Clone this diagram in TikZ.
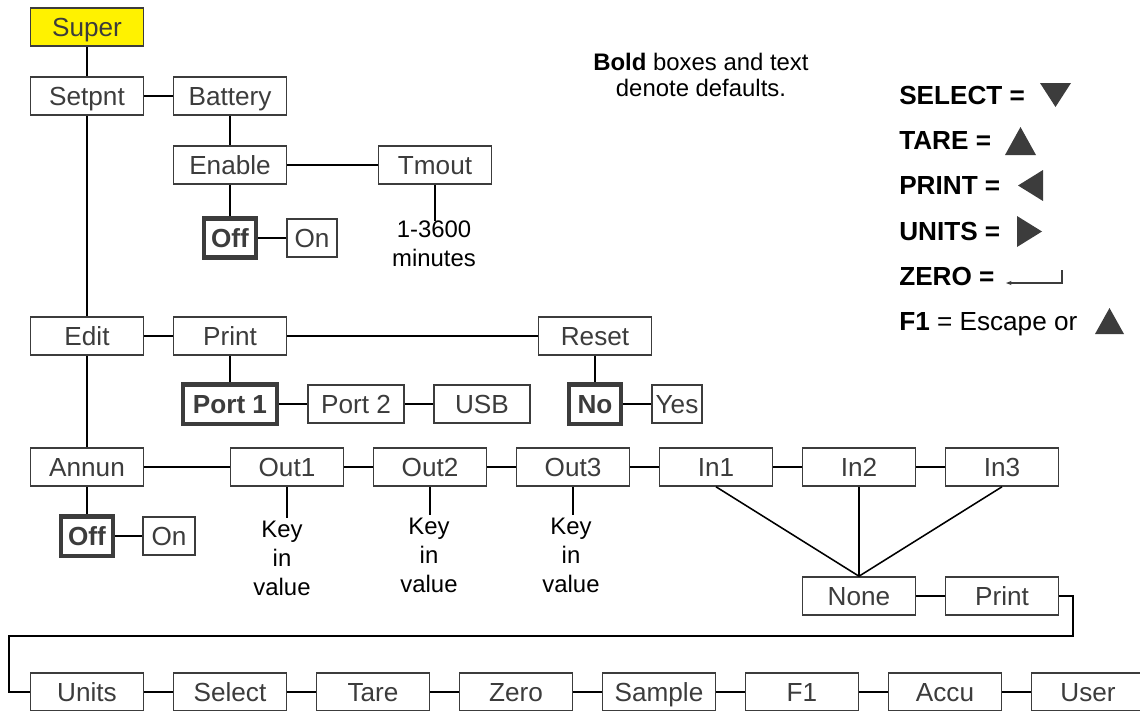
\documentclass[tikz,border=0pt]{standalone}
\usepackage{fontspec}
\setmainfont{Liberation Sans}
\usetikzlibrary{arrows.meta,positioning,calc}
\definecolor{boxgray}{HTML}{3C3C3C}
\definecolor{menuyellow}{HTML}{FFF200}
\tikzset{
    menubox/.style={draw=boxgray, line width=1.1pt, fill=white, text=boxgray, inner sep=0pt,
        minimum width=2.825cm, minimum height=0.95cm, text height=13.3pt, text depth=0pt,
        font=\fontsize{18.6}{22}\selectfont},
    defbox/.style={menubox, line width=3pt, minimum height=0.98cm,
        font=\fontsize{18.6}{22}\selectfont\bfseries},
    link/.style={line width=1.1pt, black}
}

\begin{document}
\begin{tikzpicture}[
    x=0.025cm, y=-0.025cm,
    node distance=0.75cm,
    keyval/.style={align=center, inner sep=0pt, font=\fontsize{17}{20.6}\selectfont},
    legtext/.style={anchor=base west, inner sep=0pt, font=\fontsize{18.6}{22}\selectfont},
    legtri/.style={fill=boxgray}
]
\useasboundingbox (0,0) rectangle (1140,711);
% setpoint branch
\node[menubox, fill=menuyellow] (super) at (87,27) {Super};
\node[menubox] (setpnt) at (87,96) {Setpnt};
\node[menubox] (battery) at (230,96) {Battery};
\node[menubox] (enable) at (230,165) {Enable};
\node[menubox] (tmout) at (435,165) {Tmout};
\node[defbox, minimum width=1.3cm] (offbat) at (230,238) {Off};
\node[menubox, minimum width=1.25cm] (onbat) at (312,238) {On};
\node[keyval, anchor=north] (tmoutval) at (434,221) {1-3600\\minutes};
\draw[link] (super) -- (setpnt);
\draw[link] (setpnt) -- (battery);
\draw[link] (battery) -- (enable);
\draw[link] (enable) -- (tmout);
\draw[link] (enable) -- (offbat);
\draw[link] (offbat) -- (onbat);
\draw[link] (tmout.south) -- (tmout.south |- tmoutval.north);
% edit branch
\node[menubox] (edit) at (87,336) {Edit};
\node[menubox] (print) at (230,336) {Print};
\node[menubox] (reset) at (595,336) {Reset};
\node[defbox, minimum width=2.35cm] (port1) at (230,404) {Port 1};
\node[menubox, minimum width=2.4cm] (port2) at (356,404) {Port 2};
\node[menubox, minimum width=2.4cm] (usb) at (482,404) {USB};
\node[defbox, minimum width=1.3cm] (no) at (595,404) {No};
\node[menubox, minimum width=1.25cm] (yes) at (677,404) {Yes};
\draw[link] (setpnt) -- (edit);
\draw[link] (edit) -- (print);
\draw[link] (print) -- (reset);
\draw[link] (print) -- (port1);
\draw[link] (port1) -- (port2);
\draw[link] (port2) -- (usb);
\draw[link] (reset) -- (no);
\draw[link] (no) -- (yes);
% annunciator branch
\node[menubox] (annun) at (87,467) {Annun};
\node[menubox] (out1) at (287,467) {Out1};
\node[menubox] (out2) at (430,467) {Out2};
\node[menubox] (out3) at (573,467) {Out3};
\node[menubox] (in1) at (716,467) {In1};
\node[menubox] (in2) at (859,467) {In2};
\node[menubox] (in3) at (1002,467) {In3};
\node[defbox, minimum width=1.3cm] (offann) at (87,536) {Off};
\node[menubox, minimum width=1.3cm] (onann) at (169,536) {On};
\node[keyval, anchor=north] (keyval1) at (282,521) {Key\\in\\value};
\node[keyval, anchor=north] (keyval2) at (429,518) {Key\\in\\value};
\node[keyval, anchor=north] (keyval3) at (571,518) {Key\\in\\value};
\node[menubox] (none) at (859,596) {None};
\node[menubox] (inprint) at (1002,596) {Print};
\draw[link] (edit) -- (annun);
\draw[link] (annun) -- (out1);
\draw[link] (out1) -- (out2);
\draw[link] (out2) -- (out3);
\draw[link] (out3) -- (in1);
\draw[link] (in1) -- (in2);
\draw[link] (in2) -- (in3);
\draw[link] (annun) -- (offann);
\draw[link] (offann) -- (onann);
\draw[link] (out1.south) -- ++(0,31);
\draw[link] (out2.south) -- ++(0,28);
\draw[link] (out3.south) -- ++(0,28);
\draw[link] (in1.south) -- (none.north);
\draw[link] (in2.south) -- (none.north);
\draw[link] (in3.south) -- (none.north);
\draw[link] (none) -- (inprint);
% key row
\node[menubox] (units) at (87,692) {Units};
\node[menubox] (select) at (230,692) {Select};
\node[menubox] (tare) at (373,692) {Tare};
\node[menubox] (zero) at (516,692) {Zero};
\node[menubox] (sample) at (659,692) {Sample};
\node[menubox] (fone) at (802,692) {F1};
\node[menubox] (accu) at (945,692) {Accu};
\node[menubox] (user) at (1088,692) {User};
\coordinate (wrapR) at (1073,636);
\coordinate (wrapL) at (9,636);
\draw[link] (inprint.east) -| (wrapR) -- (wrapL) |- (units.west);
\draw[link] (units) -- (select);
\draw[link] (select) -- (tare);
\draw[link] (tare) -- (zero);
\draw[link] (zero) -- (sample);
\draw[link] (sample) -- (fone);
\draw[link] (fone) -- (accu);
\draw[link] (accu) -- (user);
% legend
\node[align=center, inner sep=0pt, font=\fontsize{17}{19}\selectfont] (note) at (701,75)
    {\textbf{Bold} boxes and text\\denote defaults.};
\node[legtext] (legsel) at (899,104) {\textbf{SELECT =}};
\node[legtext] (legtare) at (899,149) {\textbf{TARE =}};
\node[legtext] (legprint) at (899,194) {\textbf{PRINT =}};
\node[legtext] (legunits) at (899,240) {\textbf{UNITS =}};
\node[legtext] (legzero) at (899,285) {\textbf{ZERO =}};
\node[legtext] (legfone) at (899,330) {\textbf{F1} = Escape or};
\fill[legtri] (1040,83) -- (1071,83) -- (1055.5,107) -- cycle;
\fill[legtri] (1005,155) -- (1036,155) -- (1020.5,127) -- cycle;
\fill[legtri] (1043,170) -- (1043,201) -- (1018,185.5) -- cycle;
\fill[legtri] (1017,216) -- (1017,247) -- (1042,231.5) -- cycle;
\fill[legtri] (1095,334) -- (1124,334) -- (1109.5,308) -- cycle;
\draw[line width=0.8pt, boxgray, -{Stealth[length=4pt]}] (1062,270) -- (1062,283) -- (1006,283);
\end{tikzpicture}
\end{document}
